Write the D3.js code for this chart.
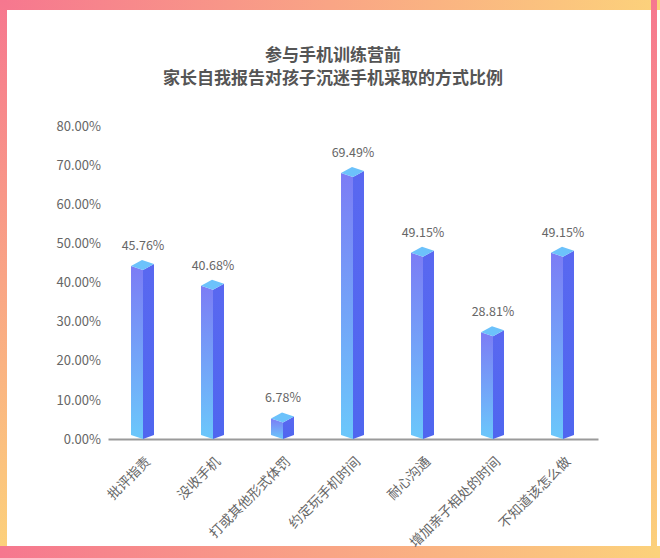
<!DOCTYPE html>
<html><head><meta charset="utf-8">
<script src="https://cdn.jsdelivr.net/npm/d3@7/dist/d3.min.js"></script>
<style>
html,body{margin:0;padding:0;background:#fff;}
svg{display:block;font-family:"Noto Sans CJK SC","Noto Sans",sans-serif;}
</style></head>
<body>
<svg id="chart" width="660" height="558"></svg>
<script>
const titleLines = ["参与手机训练营前", "家长自我报告对孩子沉迷手机采取的方式比例"];
const categories = ["批评指责", "没收手机", "打或其他形式体罚", "约定玩手机时间", "耐心沟通", "增加亲子相处的时间", "不知道该怎么做"];
const values = [45.76, 40.68, 6.78, 69.49, 49.15, 28.81, 49.15];
const yTicks = [0, 10, 20, 30, 40, 50, 60, 70, 80];

const W = 660, H = 558;
const svg = d3.select("#chart");
const defs = svg.append("defs");

function lin(id, x1, y1, x2, y2, stops) {
  const g = defs.append("linearGradient").attr("id", id)
    .attr("x1", x1).attr("y1", y1).attr("x2", x2).attr("y2", y2);
  stops.forEach(s => g.append("stop").attr("offset", s[0]).attr("stop-color", s[1]));
}
const PINK = "#f6778f", YEL = "#fcd27b";
lin("gH", 0, 0, 1, 0, [[0, PINK], [1, YEL]]);
lin("gV", 0, 0, 0, 1, [[0, PINK], [1, YEL]]);
lin("gFront", 0, 0, 0, 1, [[0, "#7c7cf5"], [1, "#6bc8fb"]]);
lin("gSide", 0, 0, 0, 1, [[0, "#5968f0"], [1, "#4f66ef"]]);

// frame
svg.append("rect").attr("x", 0).attr("y", 0).attr("width", W).attr("height", 10).attr("fill", "url(#gH)");
svg.append("rect").attr("x", 0).attr("y", 0).attr("width", 7).attr("height", H).attr("fill", "url(#gV)");
svg.append("rect").attr("x", 651).attr("y", 0).attr("width", 6).attr("height", H).attr("fill", "url(#gV)");
svg.append("rect").attr("x", 0).attr("y", 546).attr("width", W).attr("height", 12).attr("fill", "url(#gH)");

// title
svg.append("g").selectAll("text").data(titleLines).join("text")
  .attr("x", 333).attr("y", (d, i) => 60.5 + i * 23)
  .attr("text-anchor", "middle").attr("font-size", 17).attr("font-weight", "bold")
  .attr("fill", "#555").text(d => d);

const x = d3.scaleBand().domain(categories).range([108, 598]);
const y = d3.scaleLinear().domain([0, 80]).range([439, 126]);

// y axis labels
const yAxis = d3.axisLeft(y).tickValues(yTicks).tickSize(0).tickPadding(0)
  .tickFormat(d => d.toFixed(2) + "%");
const yg = svg.append("g").attr("transform", "translate(101,0)").call(yAxis);
yg.select(".domain").remove();
yg.selectAll("text").attr("font-size", 13).attr("fill", "#666")
  .attr("font-family", "'Noto Sans CJK SC','Noto Sans',sans-serif");

// x axis
const xAxis = d3.axisBottom(x).tickSize(0).tickPadding(0);
const xg = svg.append("g").attr("transform", "translate(0,439)").call(xAxis);
xg.select(".domain").attr("stroke", "#9a9a9a").attr("stroke-width", 2);
xg.selectAll("text")
  .attr("font-size", 13.5).attr("fill", "#666")
  .attr("font-family", "'Noto Sans CJK SC','Noto Sans',sans-serif")
  .attr("text-anchor", "end")
  .attr("transform", "translate(5,20) rotate(-45)")
  .attr("dy", "0.35em").attr("y", 0);

// bars
const L = 12, R = 11, dBack = 1, tL = 6, tR = 4, bot = 4;
const bars = svg.append("g").selectAll("g").data(categories.map((c, i) => ({c, v: values[i]}))).join("g");
bars.each(function(d) {
  const g = d3.select(this);
  const c = x(d.c) + x.bandwidth() / 2;
  const v = y(d.v), b = y(0);
  const front = v + tL + tR; // front-centre vertex of top face
  g.append("path").attr("fill", "url(#gFront)")
    .attr("d", `M${c - L},${v + tL}L${c},${front}L${c},${b}L${c - L},${b - bot}Z`);
  g.append("path").attr("fill", "url(#gSide)")
    .attr("d", `M${c},${front}L${c + R},${v + tR}L${c + R},${b - bot}L${c},${b}Z`);
  g.append("path").attr("fill", "#6cc2fb")
    .attr("d", `M${c - L},${v + tL}L${c - dBack},${v}L${c + R},${v + tR}L${c},${front}Z`);
  g.append("text").attr("x", c).attr("y", v - 10)
    .attr("text-anchor", "middle").attr("font-size", 12.5).attr("fill", "#666")
    .text(d.v.toFixed(2) + "%");
});
</script>
</body></html>
